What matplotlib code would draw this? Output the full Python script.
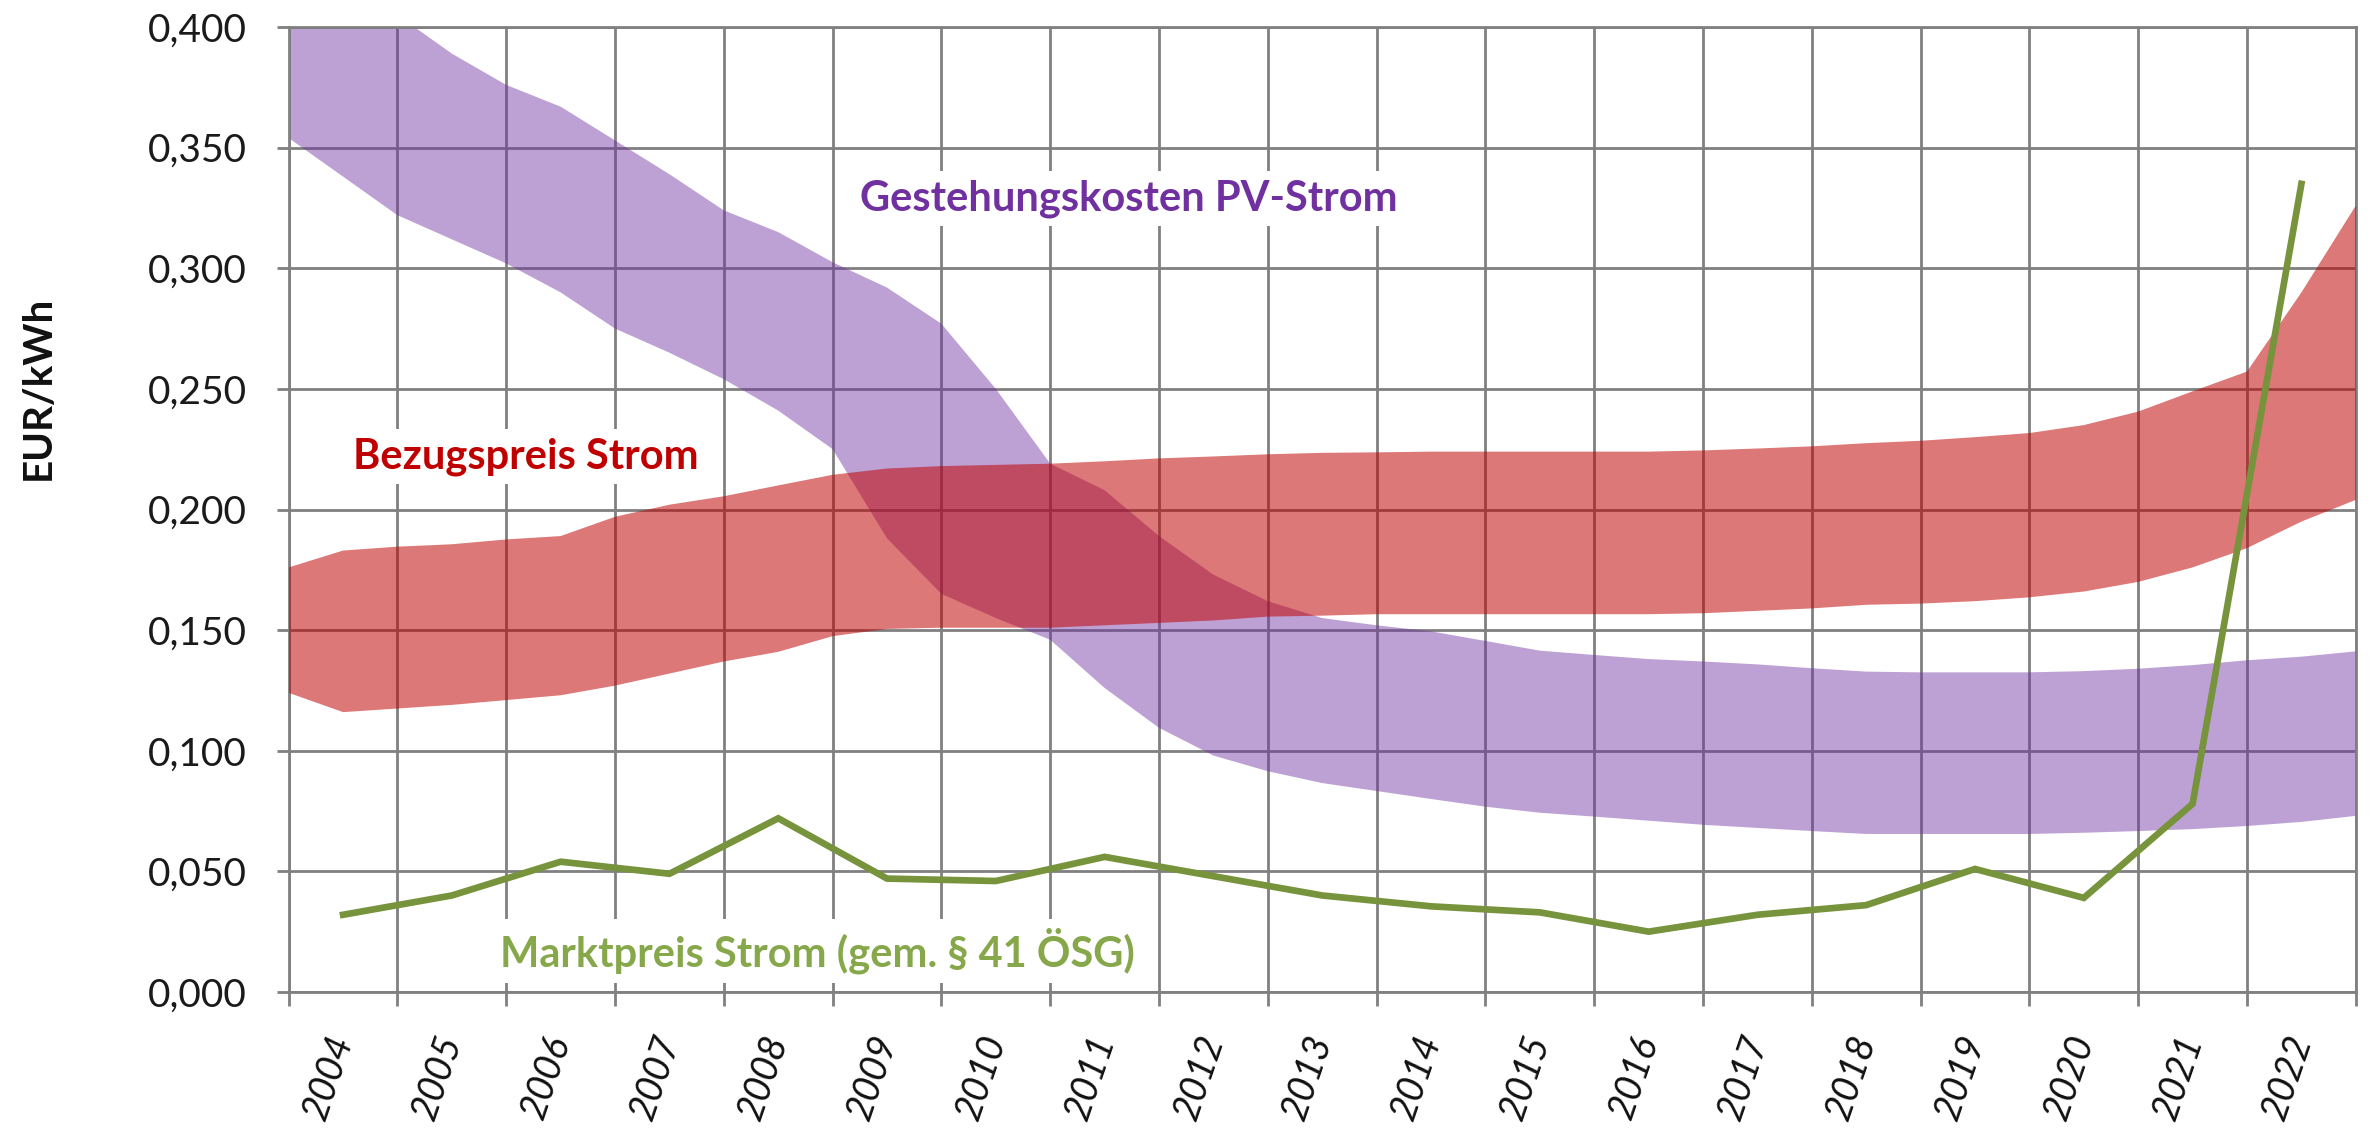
import matplotlib
matplotlib.use("Agg")
import matplotlib.pyplot as plt
from matplotlib.ticker import FixedLocator, FuncFormatter, NullFormatter

plt.rcParams['font.family'] = ['Lato', 'DejaVu Sans']

# ---- data ----
years = [2004, 2005, 2006, 2007, 2008, 2009, 2010, 2011, 2012, 2013,
         2014, 2015, 2016, 2017, 2018, 2019, 2020, 2021, 2022]
marktpreis = [0.032, 0.040, 0.054, 0.049, 0.072, 0.047, 0.046, 0.056, 0.048, 0.040,
              0.0355, 0.033, 0.025, 0.032, 0.036, 0.051, 0.039, 0.078, 0.335]

band_x = [2003.5, 2004.0, 2004.5, 2005.0, 2005.5, 2006.0, 2006.5, 2007.0, 2007.5, 2008.0,
          2008.5, 2009.0, 2009.5, 2010.0, 2010.5, 2011.0, 2011.5, 2012.0, 2012.5, 2013.0,
          2013.5, 2014.0, 2014.5, 2015.0, 2015.5, 2016.0, 2016.5, 2017.0, 2017.5, 2018.0,
          2018.5, 2019.0, 2019.5, 2020.0, 2020.5, 2021.0, 2021.5, 2022.0, 2022.5]

pv_upper = [0.425, 0.415, 0.405, 0.389, 0.376, 0.367, 0.353, 0.339, 0.324, 0.315,
            0.3025, 0.292, 0.277, 0.250, 0.219, 0.208, 0.189, 0.173, 0.162, 0.155,
            0.152, 0.1495, 0.1455, 0.1415, 0.1397, 0.138, 0.137, 0.1358, 0.1342, 0.1328,
            0.1325, 0.1325, 0.1325, 0.133, 0.134, 0.1355, 0.1375, 0.139, 0.1412]
pv_lower = [0.354, 0.338, 0.322, 0.312, 0.302, 0.290, 0.275, 0.265, 0.254, 0.241,
            0.225, 0.188, 0.165, 0.155, 0.146, 0.126, 0.1095, 0.098, 0.0915, 0.0866,
            0.0833, 0.080, 0.0768, 0.0743, 0.0727, 0.071, 0.0693, 0.068, 0.0667, 0.0655,
            0.0655, 0.0655, 0.0655, 0.066, 0.0667, 0.0675, 0.0688, 0.0705, 0.073]
bez_upper = [0.176, 0.183, 0.1846, 0.1856, 0.1876, 0.189, 0.197, 0.202, 0.2055, 0.210,
             0.2144, 0.217, 0.218, 0.2185, 0.219, 0.220, 0.2212, 0.222, 0.2229, 0.2235,
             0.2237, 0.224, 0.224, 0.224, 0.224, 0.224, 0.2245, 0.2253, 0.2262, 0.2275,
             0.2285, 0.230, 0.2317, 0.235, 0.2406, 0.249, 0.2572, 0.290, 0.326]
bez_lower = [0.124, 0.116, 0.1175, 0.119, 0.121, 0.123, 0.127, 0.132, 0.137, 0.141,
             0.1475, 0.1505, 0.151, 0.151, 0.151, 0.152, 0.153, 0.154, 0.1556, 0.156,
             0.1566, 0.1566, 0.1566, 0.1566, 0.1566, 0.1566, 0.157, 0.158, 0.159, 0.1605,
             0.161, 0.162, 0.1636, 0.166, 0.170, 0.176, 0.184, 0.195, 0.204]

y_ticks = [0.0, 0.05, 0.10, 0.15, 0.20, 0.25, 0.30, 0.35, 0.40]
grid_x = [2003.5 + i for i in range(20)]

label_pv = "Gestehungskosten PV-Strom"
label_bez = "Bezugspreis Strom"
label_markt = "Marktpreis Strom (gem. § 41 ÖSG)"
y_label = "EUR/kWh"

# ---- colours ----
c_purple = '#7030A0'
c_red = '#C00000'
c_green = '#77933C'
c_green_text = '#86A84A'
c_grid = '#808080'

fig = plt.figure(figsize=(23.76, 11.28), dpi=100)
ax = fig.add_axes([0.1215, 0.1206, 0.8700, 0.8554])

ax.fill_between(band_x, pv_lower, pv_upper, facecolor=c_purple, alpha=0.45,
                linewidth=0, zorder=2)
ax.fill_between(band_x, bez_lower, bez_upper, facecolor=c_red, alpha=0.53,
                linewidth=0, zorder=3)
ax.plot(years, marktpreis, color=c_green, linewidth=4.8, zorder=4,
        solid_joinstyle='miter')

ax.set_xlim(2003.5, 2022.5)
ax.set_ylim(0, 0.4)

ax.xaxis.set_major_locator(FixedLocator(grid_x))
ax.xaxis.set_major_formatter(NullFormatter())
ax.xaxis.set_minor_locator(FixedLocator(years))
ax.set_xticklabels([str(y) for y in years], minor=True)
ax.tick_params(axis='x', which='major', direction='out', length=10, width=2,
               color=c_grid)
ax.tick_params(axis='x', which='minor', length=0, pad=32, labelsize=27,
               labelcolor='#111111')
for lab in ax.get_xticklabels(minor=True):
    lab.set_rotation(71)
    lab.set_rotation_mode('anchor')
    lab.set_ha('right')
    lab.set_va('center')
    lab.set_style('italic')

ax.yaxis.set_major_locator(FixedLocator(y_ticks))
ax.yaxis.set_major_formatter(FuncFormatter(lambda v, p: f"{v:.3f}".replace('.', ',')))
ax.tick_params(axis='y', direction='out', length=9, width=2, color=c_grid,
               labelsize=28, labelcolor='#1a1a1a', pad=21)

ax.grid(True, which='major', color=c_grid, linewidth=2, zorder=0)
ax.set_axisbelow(True)
for s in ax.spines.values():
    s.set_color(c_grid)
    s.set_linewidth(2)

bbox = dict(facecolor='white', edgecolor='none', pad=6)
ax.text(2011.22, 0.329, label_pv, color=c_purple, fontsize=30, fontweight='bold',
        ha='center', va='center', zorder=6, bbox=bbox)
ax.text(2005.68, 0.222, label_bez, color=c_red, fontsize=30, fontweight='bold',
        ha='center', va='center', zorder=6, bbox=bbox)
ax.text(2008.36, 0.017, label_markt, color=c_green_text, fontsize=30, fontweight='bold',
        ha='center', va='center', zorder=6, bbox=bbox)

fig.text(0.016, 0.656, y_label, rotation=90, fontsize=29, fontweight='bold',
         color='#111111', ha='center', va='center')

fig.savefig('out.png', dpi=100, facecolor='white')
